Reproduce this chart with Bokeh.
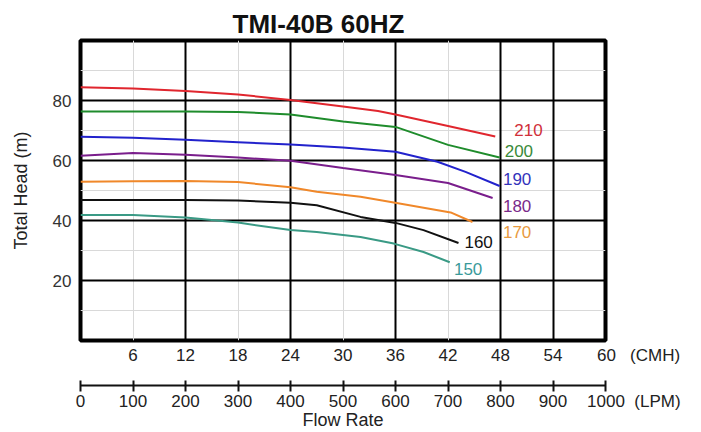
from bokeh.plotting import figure
from bokeh.models import Range1d, LinearAxis, FixedTicker, Grid, ColumnDataSource, Title
from bokeh.core.properties import value
from bokeh.embed import file_html
from bokeh.resources import INLINE

# ---------------- data ----------------
title_text = "TMI-40B 60HZ"
cmh_ticks = [6, 12, 18, 24, 30, 36, 42, 48, 54, 60]
cmh_unit = "(CMH)"
lpm_ticks = [0, 100, 200, 300, 400, 500, 600, 700, 800, 900, 1000]
lpm_unit = "(LPM)"
head_ticks = [20, 40, 60, 80]
major_x_grid = [12, 24, 36, 48, 54]
minor_x_grid = [6, 18, 30, 42]
major_y_grid = [20, 40, 60, 80]
minor_y_grid = [10, 30, 50, 70, 90]

curve_names = ["210", "200", "190", "180", "170", "160", "150"]

x_210 = [0, 6, 12, 18, 24, 30, 34, 36, 42, 47.4]
y_210 = [84.4, 84.0, 83.2, 82.0, 80.2, 78.0, 76.5, 75.3, 71.5, 68.0]

x_200 = [0, 6, 12, 18, 24, 30, 36, 42, 47.9]
y_200 = [76.3, 76.3, 76.3, 76.2, 75.3, 73.0, 71.2, 65.2, 61.0]

x_190 = [0, 6, 12, 18, 24, 30, 36, 40.8, 44, 47.9]
y_190 = [67.9, 67.6, 66.9, 66.1, 65.3, 64.3, 62.9, 59.6, 56.2, 51.5]

x_180 = [0, 6, 12, 18, 24, 30, 36, 42, 47.1]
y_180 = [61.6, 62.5, 61.9, 61.0, 59.9, 57.5, 55.2, 52.5, 47.5]

x_170 = [0, 6, 12, 18, 24, 27, 32, 35.8, 42.3, 44.8]
y_170 = [52.9, 53.1, 53.2, 52.8, 51.1, 49.6, 47.9, 46.0, 42.7, 39.5]

x_160 = [0, 12, 18, 24, 27, 32, 36, 39.2, 43.2]
y_160 = [46.8, 46.8, 46.7, 45.9, 45.1, 41.2, 39.2, 36.8, 32.5]

x_150 = [0, 6, 12, 18, 24, 27, 32, 35.8, 39.2, 42.2]
y_150 = [41.8, 41.8, 41.0, 39.3, 36.8, 36.2, 34.5, 32.3, 29.5, 26.1]

label_x = [51.2, 50.1, 49.9, 49.9, 49.9, 45.5, 44.3]
label_y = [70.3, 63.2, 53.9, 44.8, 36.1, 32.7, 24.0]

curve_colors = ["#e0262e", "#1f8c2c", "#2222cc", "#7a1e8c", "#f0882a", "#111111", "#3a9a85"]
label_colors = ["#d0303a", "#3a8a3a", "#3333bb", "#7a2a8a", "#e89a40", "#111111", "#3a9a9a"]

curves_x = [x_210, x_200, x_190, x_180, x_170, x_160, x_150]
curves_y = [y_210, y_200, y_190, y_180, y_170, y_160, y_150]

FONT = "Liberation Sans"
NB = "\u00a0"

# ---------------- figure ----------------
p = figure(width=701, height=432, output_backend="svg", toolbar_location=None,
           x_range=Range1d(0, 60), y_range=Range1d(0, 100),
           min_border_left=80, min_border_right=96, min_border_top=40, min_border_bottom=92,
           x_axis_location=None, y_axis_location=None)
p.background_fill_color = "white"
p.border_fill_color = "white"
p.outline_line_color = "black"
p.outline_line_width = 4

# grids
p.xgrid.visible = False
p.ygrid.visible = False
p.add_layout(Grid(dimension=0, ticker=FixedTicker(ticks=minor_x_grid),
                  grid_line_color="#d9d9d9", grid_line_width=1))
p.add_layout(Grid(dimension=1, ticker=FixedTicker(ticks=minor_y_grid),
                  grid_line_color="#d9d9d9", grid_line_width=1))
p.add_layout(Grid(dimension=0, ticker=FixedTicker(ticks=major_x_grid),
                  grid_line_color="black", grid_line_width=2))
p.add_layout(Grid(dimension=1, ticker=FixedTicker(ticks=major_y_grid),
                  grid_line_color="black", grid_line_width=2))

# curves
for xs, ys, c in zip(curves_x, curves_y, curve_colors):
    p.line(xs, ys, line_color=c, line_width=2)

src = ColumnDataSource(dict(x=label_x, y=label_y, t=curve_names, c=label_colors))
p.text(x="x", y="y", text="t", text_color="c", source=src, text_align="center",
       text_baseline="middle", text_font=value(FONT), text_font_size="17px")

# y axis
yax = LinearAxis(ticker=FixedTicker(ticks=head_ticks), axis_label="Total Head (m)")
yax.axis_line_color = None
yax.major_tick_line_color = None
yax.minor_tick_line_color = None
yax.major_label_standoff = 3
yax.major_label_text_font = FONT
yax.major_label_text_font_size = "17px"
yax.major_label_text_color = "#333333"
yax.axis_label_text_font = FONT
yax.axis_label_text_font_size = "18px"
yax.axis_label_text_font_style = "normal"
yax.axis_label_text_color = "#222222"
yax.axis_label_standoff = 19
p.add_layout(yax, "left")

# CMH axis (unit written after the last tick label, padded so the number stays on its tick)
cax = LinearAxis(ticker=FixedTicker(ticks=cmh_ticks), axis_label=" ")
cax.major_label_overrides = {cmh_ticks[-1]: NB * 14 + str(cmh_ticks[-1]) + NB * 3 + cmh_unit}
cax.axis_line_color = None
cax.major_tick_line_color = None
cax.minor_tick_line_color = None
cax.major_label_standoff = -1
cax.major_label_text_font = FONT
cax.major_label_text_font_size = "17px"
cax.major_label_text_color = "#222222"
cax.axis_label_text_font_size = "13px"
cax.axis_label_standoff = 0
p.add_layout(cax, "below")

# LPM axis
p.extra_x_ranges = {"lpm": Range1d(0, 1000)}
lax = LinearAxis(x_range_name="lpm", ticker=FixedTicker(ticks=lpm_ticks), axis_label="Flow Rate")
lax.major_label_overrides = {lpm_ticks[-1]: NB * 12 + str(lpm_ticks[-1]) + NB * 2 + lpm_unit}
lax.axis_line_color = "#111111"
lax.axis_line_width = 2
lax.major_tick_line_color = "#111111"
lax.major_tick_line_width = 2
lax.major_tick_in = 5
lax.major_tick_out = 6
lax.minor_tick_line_color = None
lax.major_label_standoff = 0
lax.major_label_text_font = FONT
lax.major_label_text_font_size = "17px"
lax.major_label_text_color = "#222222"
lax.axis_label_text_font = FONT
lax.axis_label_text_font_size = "18px"
lax.axis_label_text_font_style = "normal"
lax.axis_label_text_color = "#222222"
lax.axis_label_standoff = -4
p.add_layout(lax, "below")

# title
t = Title(text=title_text, align="left", offset=152, standoff=4,
          text_font=FONT, text_font_size="26px", text_font_style="bold", text_color="#111111")
p.add_layout(t, "above")

open("out.html", "w").write(file_html(p, INLINE))
